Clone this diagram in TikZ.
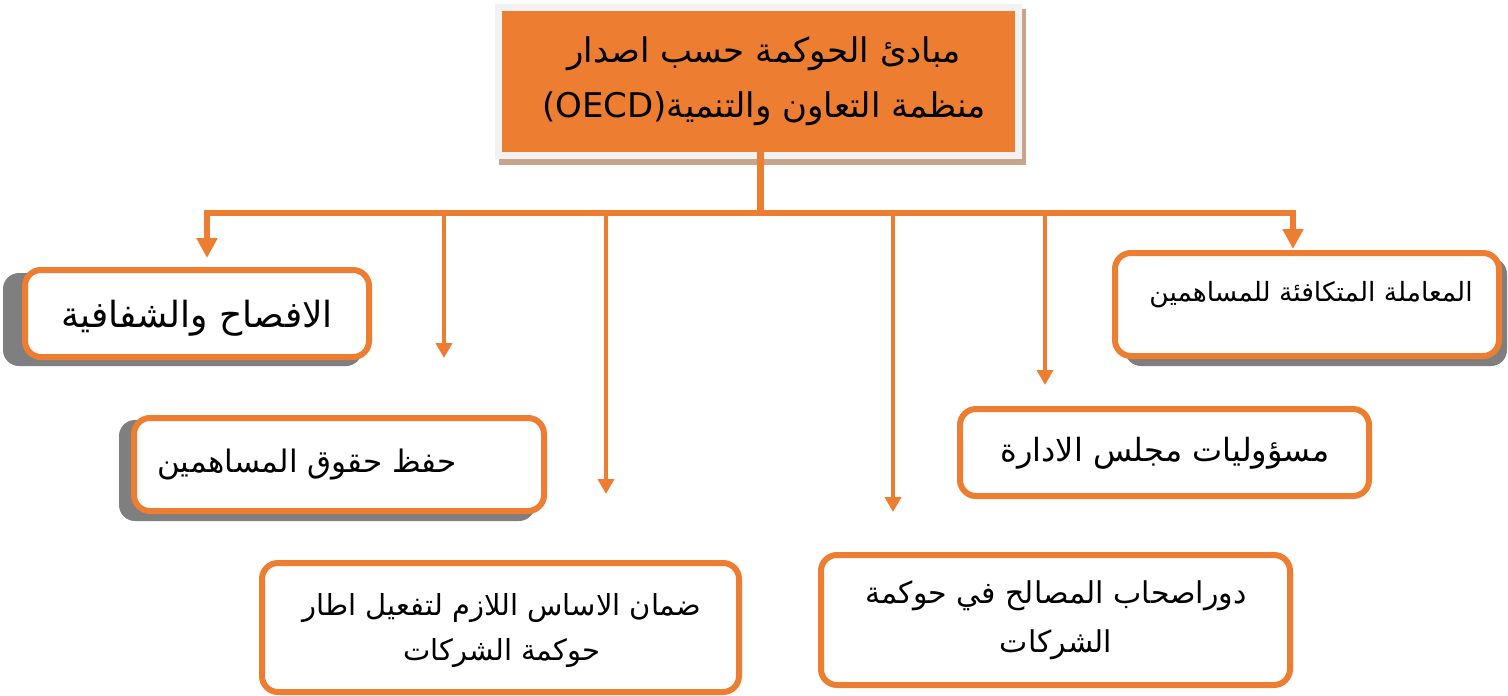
\documentclass[tikz,border=0pt]{standalone}
\usepackage{fontspec}
\newfontfamily\arabicfont[Script=Arabic]{DejaVu Sans}
\TeXXeTstate=1
\usetikzlibrary{arrows.meta}
\definecolor{org}{HTML}{ED7D31}
\definecolor{shd}{HTML}{7F7F7F}
\definecolor{frm}{HTML}{F2F2F2}
\definecolor{brn}{HTML}{C8A48C}
\newcommand\fsz[2]{\fontsize{#1}{#2}\selectfont}
\begin{document}
\begin{tikzpicture}[x=1pt,y=-1pt,
  boxnode/.style={draw=org, line width=6pt, rounded corners=16pt, fill=white, inner sep=0pt},
  shadowfill/.style={fill=shd, rounded corners=16pt},
  lbl/.style={text=black, align=center, inner sep=0pt},
  busline/.style={draw=org, line width=6pt},
  bigarrow/.style={draw=org, line width=6pt, line join=miter, -{Triangle[width=20pt,length=20pt]}},
  smallarrow/.style={draw=org, line width=4pt, -{Triangle[width=16pt,length=15pt]}}
]
\useasboundingbox (0,0) rectangle (1508,696);
\fill[white] (0,0) rectangle (1508,696);

% top box
\fill[brn] (499,9) rectangle (1026,165);
\fill[frm] (495,4) rectangle (1022,159);
\node[fill=org, minimum width=513pt, minimum height=141pt, inner sep=0pt] (top) at (758.5,81.5) {};
\node[lbl, font=\arabicfont\fsz{34}{55}] (toptxt) at (764,81)
  {\beginR مبادئ الحوكمة حسب اصدار\endR\\(OECD)\beginR منظمة التعاون والتنمية\endR};

% connectors
\coordinate (j) at (760,213);
\coordinate (e1) at (207,258);
\coordinate (e6) at (1293,249);
\coordinate (s2) at (444,213); \coordinate (e2) at (444,358);
\coordinate (s3) at (606,213); \coordinate (e3) at (606,494);
\coordinate (s4) at (893,213); \coordinate (e4) at (893,512);
\coordinate (s5) at (1045,213); \coordinate (e5) at (1045,385);
\draw[busline, line width=7pt] (top.south -| j) -- (j);
\draw[bigarrow] (j) -| (e1);
\draw[bigarrow] (j) -| (e6);
\draw[smallarrow] (s2) -- (e2);
\draw[smallarrow] (s3) -- (e3);
\draw[smallarrow] (s4) -- (e4);
\draw[smallarrow] (s5) -- (e5);

% shadows
\fill[shadowfill] (3,273) rectangle (362,366);
\fill[shadowfill] (119,420) rectangle (535,521);
\fill[shadowfill] (1125,258) rectangle (1507,366);

% boxes
\node[boxnode, minimum width=344pt, minimum height=87pt] (b1) at (197,313.5) {};
\node[boxnode, minimum width=410pt, minimum height=93pt] (b2) at (339,464.5) {};
\node[boxnode, minimum width=384pt, minimum height=103pt] (b3) at (1307,304.5) {};
\node[boxnode, minimum width=409pt, minimum height=87pt] (b4) at (1164.5,452.5) {};
\node[boxnode, minimum width=477pt, minimum height=129pt] (b5) at (500.5,627.5) {};
\node[boxnode, minimum width=469pt, minimum height=130pt] (b6) at (1055.5,620) {};

% labels
\node[lbl, font=\arabicfont\fsz{36}{43}] (t1) at (197,318) {\beginR الافصاح والشفافية\endR};
\node[lbl, font=\arabicfont\fsz{31}{37}] (t2) at (307,465) {\beginR حفظ حقوق المساهمين\endR};
\node[lbl, font=\arabicfont\fsz{26.5}{32}] (t3) at (1311,295) {\beginR المعاملة المتكافئة للمساهمين\endR};
\node[lbl, font=\arabicfont\fsz{32}{38}] (t4) at (1165,453) {\beginR مسؤوليات مجلس الادارة\endR};
\node[lbl, font=\arabicfont\fsz{29}{45}] (t5) at (502,631) {\beginR ضمان الاساس اللازم لتفعيل اطار\endR\\\beginR حوكمة الشركات\endR};
\node[lbl, font=\arabicfont\fsz{30}{49}] (t6) at (1056,620.5) {\beginR دوراصحاب المصالح في حوكمة\endR\\\beginR الشركات\endR};
\end{tikzpicture}
\end{document}
